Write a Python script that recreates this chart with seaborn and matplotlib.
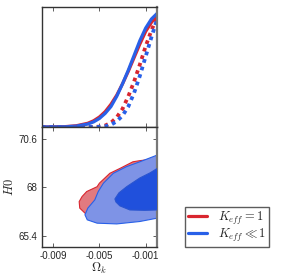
import matplotlib
matplotlib.use("Agg")
import matplotlib.pyplot as plt
import seaborn as sns
import pandas as pd

# 1D marginal of Omega_k (top panel)
omk = [-0.010, -0.008, -0.007, -0.006, -0.0055, -0.005, -0.0045, -0.004,
       -0.0035, -0.003, -0.0025, -0.002, -0.0015, -0.001, -0.0005, 0.0]
red_marg = [0, 0.003, 0.011, 0.033, 0.055, 0.088, 0.135, 0.20,
            0.28, 0.38, 0.49, 0.61, 0.73, 0.84, 0.92, 0.98]
red_like = [0, 0, 0, 0, 0.001, 0.003, 0.013, 0.038,
            0.085, 0.16, 0.27, 0.40, 0.55, 0.71, 0.85, 0.97]
blue_marg = [0, 0.002, 0.008, 0.026, 0.045, 0.075, 0.12, 0.18,
             0.27, 0.38, 0.50, 0.63, 0.76, 0.87, 0.95, 1.0]
blue_like = [0, 0, 0, 0, 0, 0.001, 0.006, 0.02,
             0.05, 0.10, 0.18, 0.30, 0.45, 0.62, 0.79, 0.95]

# 2D contours (Omega_k, H0) outlines
red95_omk = [0.0007, -0.0007, -0.0015, -0.0021, -0.0032, -0.0041, -0.0050, -0.0052,
             -0.0061, -0.0065, -0.00675, -0.0067, -0.00625, -0.0060, -0.0054,
             -0.0037, -0.0015, 0.0007]
red95_h0 = [69.58, 69.50, 69.44, 69.38, 69.03, 68.76, 68.23, 68.04,
            67.78, 67.51, 67.24, 66.89, 66.62, 66.50, 66.33,
            66.22, 66.30, 66.40]
red68_omk = [-0.0035, -0.0025, -0.0010, 0.0007, 0.0007, -0.0010, -0.0025, -0.0033]
red68_h0 = [67.60, 68.10, 68.60, 68.90, 66.90, 66.85, 66.95, 67.20]

blue95_omk = [0.0007, 0.0, -0.0015, -0.00265, -0.0038, -0.00465, -0.0051, -0.0054,
              -0.0060, -0.00625, -0.00605, -0.0052, -0.0035, -0.0015, 0.0, 0.0007]
blue95_h0 = [69.80, 69.74, 69.38, 69.12, 68.76, 68.23, 67.78, 67.33,
             66.89, 66.53, 66.26, 66.08, 66.04, 66.17, 66.35, 66.38]
blue68_omk = [-0.00366, -0.00331, -0.00262, -0.0015, -0.00063, 0.0, 0.0007,
              0.0007, 0.0, -0.00107, -0.00236, -0.00323, -0.00357]
blue68_h0 = [67.38, 67.71, 68.05, 68.51, 68.78, 69.02, 69.15,
             66.79, 66.79, 66.77, 66.79, 67.01, 67.22]

xticks = [-0.009, -0.005, -0.001]
xtick_labels = ['-0.009', '-0.005', '-0.001']
yticks = [65.4, 68, 70.6]
ytick_labels = ['65.4', '68', '70.6']
legend_labels = [r'$K_{eff}=1$', r'$K_{eff}\ll 1$']

RED = '#d9262f'
BLUE = '#2860e8'

sns.set_style("ticks")
plt.rcParams['font.family'] = ['Liberation Sans', 'DejaVu Sans']
plt.rcParams['mathtext.fontset'] = 'cm'
plt.rcParams['axes.unicode_minus'] = False
plt.rcParams['xtick.direction'] = 'in'
plt.rcParams['ytick.direction'] = 'in'

fig = plt.figure(figsize=(2.83, 2.80), dpi=100)
ax1 = fig.add_axes([0.147, 0.5464, 0.4085, 0.4275])
ax2 = fig.add_axes([0.147, 0.1179, 0.4085, 0.4286])

df = pd.DataFrame({'omk': omk, 'red': red_marg, 'red_l': red_like,
                   'blue': blue_marg, 'blue_l': blue_like})
dots = (0, (1, 1.1))
sns.lineplot(data=df, x='omk', y='red', ax=ax1, color=RED, lw=2.3)
sns.lineplot(data=df, x='omk', y='blue', ax=ax1, color=BLUE, lw=2.3)
sns.lineplot(data=df, x='omk', y='red_l', ax=ax1, color=RED, lw=2.7, linestyle=dots)
sns.lineplot(data=df, x='omk', y='blue_l', ax=ax1, color=BLUE, lw=2.7, linestyle=dots)
ax1.set_xlim(-0.010, 0.0)
ax1.set_ylim(0, 1.053)
ax1.set_xticks(xticks)
ax1.set_xticklabels([])
ax1.set_yticks([])
ax1.set_xlabel('')
ax1.set_ylabel('')
ax1.tick_params(axis='x', top=True, bottom=True, length=3, width=0.6, color='#444444')

# contours
ax2.fill(red95_omk, red95_h0, color='#e27a80', lw=0.8, ec=RED, zorder=1)
ax2.fill(red68_omk, red68_h0, color='#d9262f', lw=0, zorder=1)
ax2.fill(blue95_omk, blue95_h0, color='#7e93e6', lw=0.8, ec=BLUE, zorder=2)
ax2.fill(blue68_omk, blue68_h0, color='#2050dc', lw=0.8, ec='#2a55d0', zorder=3)
ax2.set_xlim(-0.010, 0.0)
ax2.set_ylim(64.8, 71.25)
ax2.set_xticks(xticks)
ax2.set_xticklabels(xtick_labels, fontsize=7)
ax2.set_yticks(yticks)
ax2.set_yticklabels(ytick_labels, fontsize=7)
ax2.tick_params(top=True, right=True, length=3, width=0.6, color='#444444', pad=3)
ax2.set_xlabel(r'$\Omega_k$', fontsize=9, labelpad=0)
ax2.set_ylabel(r'$H0$', fontsize=9, labelpad=1.5)

for ax in (ax1, ax2):
    for s in ax.spines.values():
        s.set_color('#333333')
        s.set_linewidth(1.0)
    ax.spines['right'].set_color('#777777')
    ax.spines['right'].set_linewidth(1.6)

handles = [plt.Line2D([], [], color=RED, lw=2.3), plt.Line2D([], [], color=BLUE, lw=2.3)]
leg = fig.legend(handles, legend_labels,
                 loc='lower left', bbox_to_anchor=(185 / 283, 1 - 247 / 280),
                 borderaxespad=0, fontsize=9, frameon=True, fancybox=False,
                 handlelength=1.5, borderpad=0.25, labelspacing=0.0,
                 handletextpad=0.9)
leg.get_frame().set_edgecolor('#333333')
leg.get_frame().set_linewidth(1.0)

fig.savefig('out.png', dpi=100)
